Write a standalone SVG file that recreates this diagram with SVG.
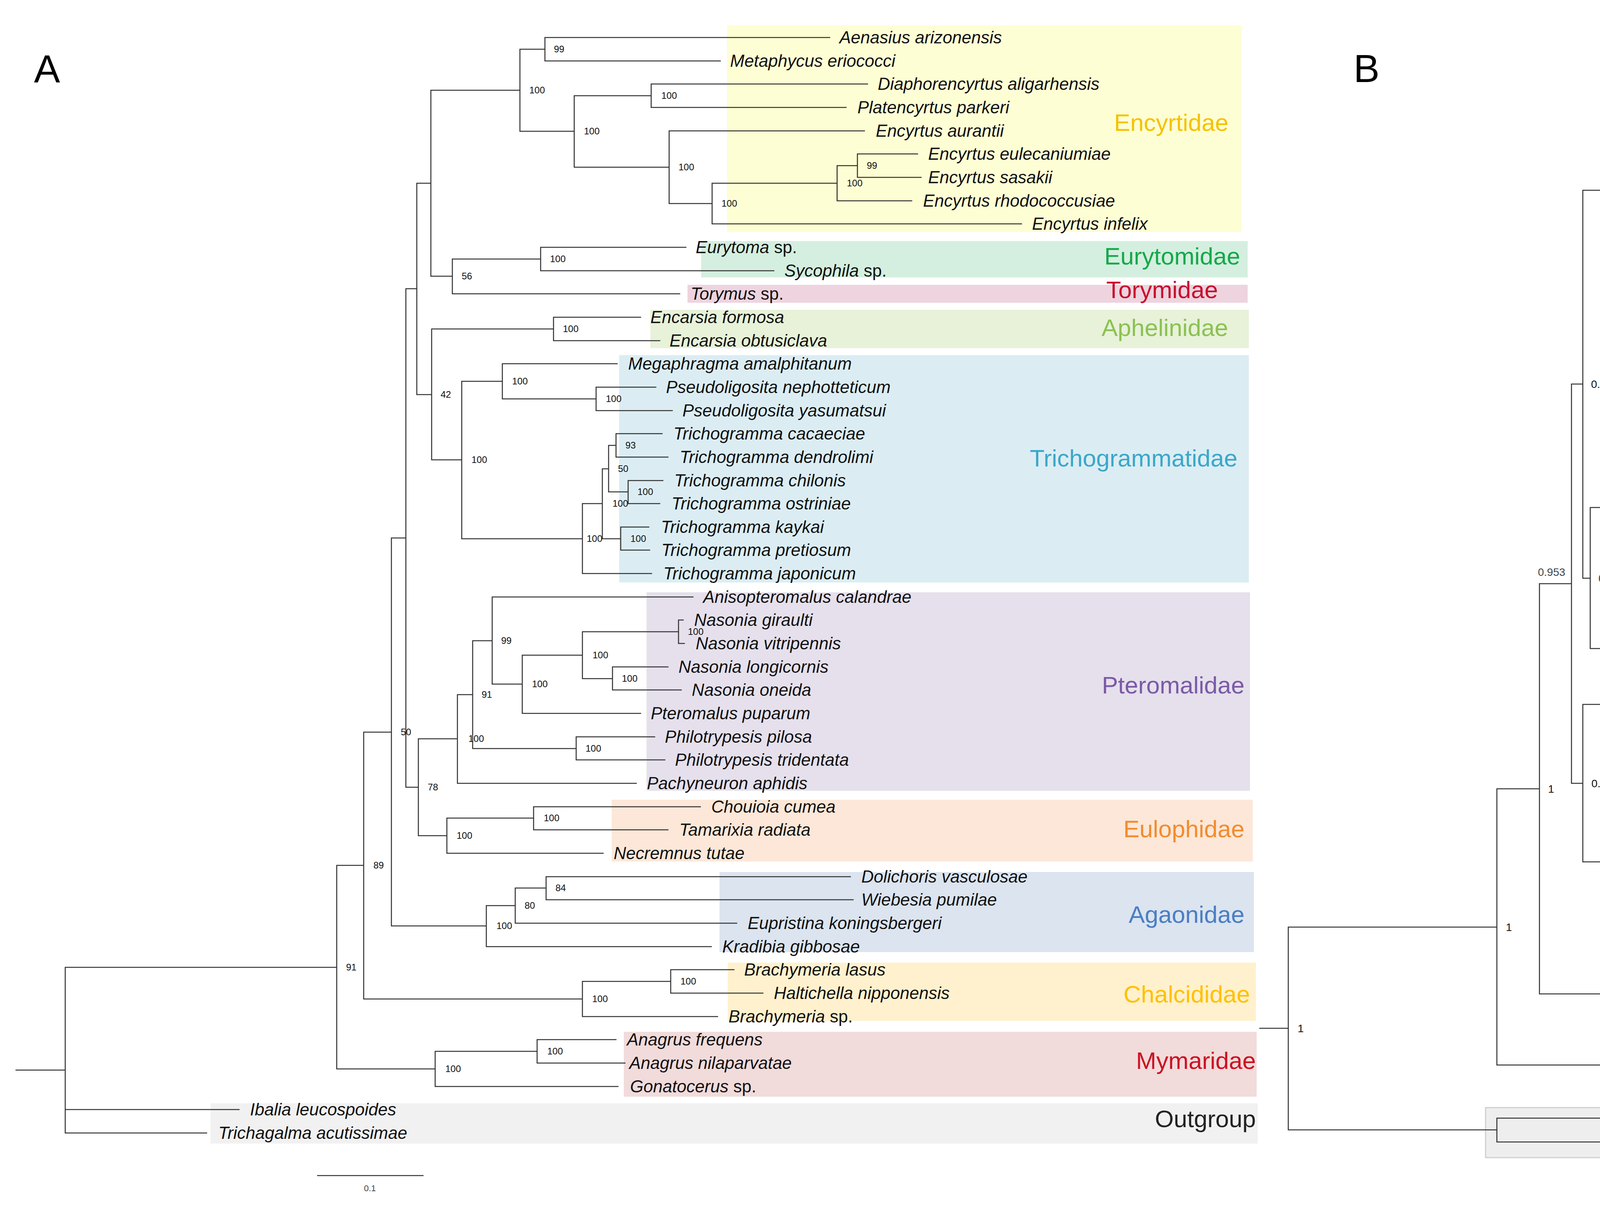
<svg xmlns="http://www.w3.org/2000/svg" width="6119" height="3092" viewBox="0 0 6119 3092">
<style>
.tree{fill:none;stroke:#333;stroke-width:2.6;stroke-linecap:square}
.t{font-family:"Liberation Sans",Arial,sans-serif;font-style:italic;fill:#111}
.ta{font-size:44px}
.tb{font-size:38px}
.n{font-style:normal}
.s{font-family:"Liberation Sans",Arial,sans-serif;fill:#111}
.sa{font-size:24px}
.sb{font-size:28px}
.lt{fill:#444}
.fam{font-family:"Liberation Sans",Arial,sans-serif;text-anchor:end}
.fa{font-size:62px}
.fb{font-size:52px}
.big{font-family:"Liberation Sans",Arial,sans-serif;font-size:100px;fill:#000}
.bar{font-family:"Liberation Sans",Arial,sans-serif;font-size:22px;fill:#444;text-anchor:middle}
</style>
<rect width="6119" height="3092" fill="#fff"/>
<!-- ================= PANEL A ================= -->
<g id="panelA">
<text class="big" x="87" y="211">A</text>
<g id="A-boxes">
<rect x="1861" y="65" width="1317" height="529" fill="#FEFED4"/>
<rect x="1795" y="617" width="1399" height="93" fill="#D4EFDF"/>
<rect x="1760" y="729" width="1434" height="46" fill="#EDD4DF"/>
<rect x="1665" y="793" width="1532" height="98" fill="#E7F2D9"/>
<rect x="1585" y="909" width="1612" height="582" fill="#DBEDF3"/>
<rect x="1655" y="1516" width="1545" height="508" fill="#E5E0EC"/>
<rect x="1566" y="2047" width="1641" height="158" fill="#FCE7D8"/>
<rect x="1842" y="2232" width="1368" height="205" fill="#DBE4EF"/>
<rect x="1863" y="2464" width="1352" height="149" fill="#FFF1CD"/>
<rect x="1597" y="2641" width="1620" height="166" fill="#F1DBDB"/>
<rect x="539" y="2824" width="2681" height="103" fill="#F1F1F1"/>
</g>
<g id="A-connectors">
<path class="tree" d="M1395,96V156M1395,96H2124M1395,156H1844
M1667,215V275M1667,215H2221M1667,275H2166
M2195,394V454M2195,394H2349M2195,454H2358
M2143,424V514M2143,424H2195M2143,514H2334
M1823,469V573M1823,469H2143M1823,573H2615
M1713,335V521M1713,335H2213M1713,521H1823
M1470,245V428M1470,245H1667M1470,428H1713
M1331,126V336M1331,126H1395M1331,336H1470
M1384,633V693M1384,633H1756M1384,693H1981
M1158,663V752M1158,663H1384M1158,752H1740
M1103,231V707M1103,231H1331M1103,707H1158
M1417,812V872M1417,812H1640M1417,872H1689
M1526,991V1051M1526,991H1679M1526,1051H1721
M1286,931V1021M1286,931H1580M1286,1021H1526
M1577,1110V1170M1577,1110H1695M1577,1170H1710
M1608,1230V1289M1608,1230H1697M1608,1289H1689
M1558,1140V1259M1558,1140H1577M1558,1259H1608
M1589,1349V1408M1589,1349H1661M1589,1408H1663
M1542,1200V1379M1542,1200H1558M1542,1379H1589
M1491,1289V1468M1491,1289H1542M1491,1468H1668
M1182,976V1379M1182,976H1286M1182,1379H1491
M1105,842V1177M1105,842H1417M1105,1177H1182
M1067,469V1010M1067,469H1103M1067,1010H1105
M1737,1587V1647M1737,1587H1749M1737,1647H1752
M1568,1707V1766M1568,1707H1710M1568,1766H1744
M1491,1617V1737M1491,1617H1737M1491,1737H1568
M1337,1677V1826M1337,1677H1491M1337,1826H1640
M1260,1528V1751M1260,1528H1774M1260,1751H1337
M1475,1886V1945M1475,1886H1676M1475,1945H1702
M1210,1640V1916M1210,1640H1260M1210,1916H1475
M1171,1778V2005M1171,1778H1210M1171,2005H1629
M1366,2065V2124M1366,2065H1793M1366,2124H1710
M1144,2094V2184M1144,2094H1366M1144,2184H1544
M1071,1891V2139M1071,1891H1171M1071,2139H1144
M1039,739V2015M1039,739H1067M1039,2015H1071
M1398,2244V2303M1398,2244H2177M1398,2303H2184
M1319,2273V2363M1319,2273H1398M1319,2363H1886
M1245,2318V2423M1245,2318H1319M1245,2423H1821
M1002,1377V2370M1002,1377H1039M1002,2370H1245
M1717,2482V2542M1717,2482H1879M1717,2542H1953
M1491,2512V2602M1491,2512H1717M1491,2602H1837
M931,1874V2557M931,1874H1002M931,2557H1491
M1375,2661V2721M1375,2661H1577M1375,2721H1600
M1114,2691V2781M1114,2691H1375M1114,2781H1582
M862,2215V2736M862,2215H931M862,2736H1114
M167,2476V2900M167,2476H862M167,2840H612M167,2900H529M41,2739H167"/>
<path class="tree" d="M813,3009H1083"/>
</g>
<g id="A-support" class="s sa">
<text x="1418" y="134">99</text>
<text x="1355" y="239">100</text>
<text x="1495" y="344">100</text>
<text x="1693" y="253">100</text>
<text x="1737" y="436">100</text>
<text x="1847" y="529">100</text>
<text x="2168" y="477">100</text>
<text x="2219" y="432">99</text>
<text x="1408" y="671">100</text>
<text x="1182" y="715">56</text>
<text x="1441" y="850">100</text>
<text x="1128" y="1018">42</text>
<text x="1207" y="1185">100</text>
<text x="1311" y="984">100</text>
<text x="1551" y="1029">100</text>
<text x="1502" y="1387">100</text>
<text x="1568" y="1297">100</text>
<text x="1582" y="1208">50</text>
<text x="1601" y="1148">93</text>
<text x="1632" y="1267">100</text>
<text x="1614" y="1387">100</text>
<text x="1283" y="1648">99</text>
<text x="1362" y="1759">100</text>
<text x="1517" y="1685">100</text>
<text x="1761" y="1625">100</text>
<text x="1592" y="1745">100</text>
<text x="1233" y="1786">91</text>
<text x="1199" y="1899">100</text>
<text x="1499" y="1924">100</text>
<text x="1095" y="2023">78</text>
<text x="1026" y="1882">50</text>
<text x="1169" y="2147">100</text>
<text x="1392" y="2102">100</text>
<text x="956" y="2223">89</text>
<text x="886" y="2484">91</text>
<text x="1271" y="2378">100</text>
<text x="1343" y="2326">80</text>
<text x="1422" y="2281">84</text>
<text x="1516" y="2565">100</text>
<text x="1742" y="2520">100</text>
<text x="1140" y="2744">100</text>
<text x="1401" y="2699">100</text>
</g>
<text class="bar" x="947" y="3049">0.1</text>
<g id="A-Encyrtidae">
<text class="t ta" x="2149" y="111">Aenasius arizonensis</text>
<text class="t ta" x="1869" y="171">Metaphycus eriococci</text>
<text class="t ta" x="2247" y="230">Diaphorencyrtus aligarhensis</text>
<text class="t ta" x="2195" y="290">Platencyrtus parkeri</text>
<text class="t ta" x="2242" y="350">Encyrtus aurantii</text>
<text class="t ta" x="2376" y="409">Encyrtus eulecaniumiae</text>
<text class="t ta" x="2376" y="469">Encyrtus sasakii</text>
<text class="t ta" x="2363" y="529">Encyrtus rhodococcusiae</text>
<text class="t ta" x="2642" y="588">Encyrtus infelix</text>
<text class="fam fa" x="3145" y="335" fill="#F5C200">Encyrtidae</text>
</g>
<g id="A-Eurytomidae">
<text class="t ta" x="1781" y="648">Eurytoma <tspan class="n">sp.</tspan></text>
<text class="t ta" x="2008" y="708">Sycophila <tspan class="n">sp.</tspan></text>
<text class="fam fa" x="3175" y="677" fill="#16A84A">Eurytomidae</text>
</g>
<g id="A-Torymidae">
<text class="t ta" x="1768" y="767">Torymus <tspan class="n">sp.</tspan></text>
<text class="fam fa" x="3118" y="763" fill="#C8102E">Torymidae</text>
</g>
<g id="A-Aphelinidae">
<text class="t ta" x="1665" y="827">Encarsia formosa</text>
<text class="t ta" x="1714" y="887">Encarsia obtusiclava</text>
<text class="fam fa" x="3144" y="860" fill="#8CC152">Aphelinidae</text>
</g>
<g id="A-Trichogrammatidae">
<text class="t ta" x="1608" y="946">Megaphragma amalphitanum</text>
<text class="t ta" x="1705" y="1006">Pseudoligosita nephotteticum</text>
<text class="t ta" x="1747" y="1066">Pseudoligosita yasumatsui</text>
<text class="t ta" x="1724" y="1125">Trichogramma cacaeciae</text>
<text class="t ta" x="1740" y="1185">Trichogramma dendrolimi</text>
<text class="t ta" x="1726" y="1245">Trichogramma chilonis</text>
<text class="t ta" x="1719" y="1304">Trichogramma ostriniae</text>
<text class="t ta" x="1692" y="1364">Trichogramma kaykai</text>
<text class="t ta" x="1693" y="1423">Trichogramma pretiosum</text>
<text class="t ta" x="1698" y="1483">Trichogramma japonicum</text>
<text class="fam fa" x="3168" y="1194" fill="#3BA7C9">Trichogrammatidae</text>
</g>
<g id="A-Pteromalidae">
<text class="t ta" x="1800" y="1543">Anisopteromalus calandrae</text>
<text class="t ta" x="1777" y="1602">Nasonia giraulti</text>
<text class="t ta" x="1781" y="1662">Nasonia vitripennis</text>
<text class="t ta" x="1737" y="1722">Nasonia longicornis</text>
<text class="t ta" x="1771" y="1781">Nasonia oneida</text>
<text class="t ta" x="1666" y="1841">Pteromalus puparum</text>
<text class="t ta" x="1702" y="1901">Philotrypesis pilosa</text>
<text class="t ta" x="1728" y="1960">Philotrypesis tridentata</text>
<text class="t ta" x="1656" y="2020">Pachyneuron aphidis</text>
<text class="fam fa" x="3186" y="1775" fill="#7B5AA6">Pteromalidae</text>
</g>
<g id="A-Eulophidae">
<text class="t ta" x="1821" y="2080">Chouioia cumea</text>
<text class="t ta" x="1739" y="2139">Tamarixia radiata</text>
<text class="t ta" x="1571" y="2199">Necremnus tutae</text>
<text class="fam fa" x="3186" y="2143" fill="#F28C2E">Eulophidae</text>
</g>
<g id="A-Agaonidae">
<text class="t ta" x="2205" y="2259">Dolichoris vasculosae</text>
<text class="t ta" x="2205" y="2318">Wiebesia pumilae</text>
<text class="t ta" x="1914" y="2378">Eupristina koningsbergeri</text>
<text class="t ta" x="1849" y="2438">Kradibia gibbosae</text>
<text class="fam fa" x="3186" y="2362" fill="#4A7EC4">Agaonidae</text>
</g>
<g id="A-Chalcididae">
<text class="t ta" x="1905" y="2497">Brachymeria lasus</text>
<text class="t ta" x="1981" y="2557">Haltichella nipponensis</text>
<text class="t ta" x="1865" y="2617">Brachymeria <tspan class="n">sp.</tspan></text>
<text class="fam fa" x="3200" y="2566" fill="#FFC000">Chalcididae</text>
</g>
<g id="A-Mymaridae">
<text class="t ta" x="1605" y="2676">Anagrus frequens</text>
<text class="t ta" x="1611" y="2736">Anagrus nilaparvatae</text>
<text class="t ta" x="1613" y="2796">Gonatocerus <tspan class="n">sp.</tspan></text>
<text class="fam fa" x="3215" y="2736" fill="#CC1122">Mymaridae</text>
</g>
<g id="A-Outgroup">
<text class="t ta" x="640" y="2855">Ibalia leucospoides</text>
<text class="t ta" x="559" y="2915">Trichagalma acutissimae</text>
<text class="fam fa" x="3215" y="2885" fill="#222">Outgroup</text>
</g>
</g>
<!-- ================= PANEL B ================= -->
<g id="panelB">
<text class="big" x="3465" y="210">B</text>
<g id="B-boxes">
<rect x="4897" y="47" width="1187" height="544" fill="#FEFEDC" stroke="#F3F3E8" stroke-width="3"/>
<rect x="4837" y="593" width="1247" height="115" fill="#DDF2E6" stroke="#EEF6F0" stroke-width="3"/>
<rect x="4787" y="716" width="1297" height="67" fill="#EFDFE8" stroke="#F5ECF0" stroke-width="3"/>
<rect x="4772" y="788" width="1312" height="524" fill="#EDEAF2" stroke="#F4F2F6" stroke-width="3"/>
<rect x="4675" y="1324" width="1411" height="174" fill="#FDEFE5" stroke="#F8F0EA" stroke-width="3"/>
<rect x="5121" y="1505" width="963" height="242" fill="#DEEAF4" stroke="#EDF2F6" stroke-width="3"/>
<rect x="4706" y="1750" width="1375" height="106" fill="#EEF6E4" stroke="#E2EAD8" stroke-width="3"/>
<rect x="4618" y="1863" width="1456" height="597" fill="#E4F2F7" stroke="#EEF4F6" stroke-width="3"/>
<rect x="5215" y="2458" width="862" height="184" fill="#FEF5E0" stroke="#E6D6A8" stroke-width="3"/>
<rect x="4807" y="2663" width="1274" height="160" fill="#FDDEDE" stroke="#F4E6E6" stroke-width="3"/>
<rect x="3803" y="2835" width="2280" height="128" fill="#EEEEEE" stroke="#CFCFCF" stroke-width="3"/>
</g>
<g id="B-connectors">
<path class="tree" d="M4444,79V140M4444,79H4923M4444,140H5117
M5224,321V382M5224,321H5324M5224,382H5329
M5180,261V351M5180,261H5302M5180,351H5224
M4896,200V306M4896,200H5555M4896,306H5180
M4798,253V442M4798,253H4896M4798,442H5333
M4783,503V563M4783,503H5319M4783,563H5259
M4530,348V533M4530,348H4798M4530,533H4783
M4374,109V440M4374,109H4444M4374,440H4530
M4415,624V684M4415,624H4981M4415,684H4826
M4159,654V745M4159,654H4415M4159,745H4796
M4099,275V699M4099,275H4374M4099,699H4159
M4870,866V926M4870,866H4877M4870,926H4877
M4731,987V1047M4731,987H4863M4731,1047H4881
M4642,896V1017M4642,896H4870M4642,1017H4731
M4463,956V1108M4463,956H4642M4463,1108H4791
M4350,805V1032M4350,805H4872M4350,1032H4463
M4634,1168V1229M4634,1168H4850M4634,1229H4870
M4288,918V1198M4288,918H4350M4288,1198H4634
M4239,1058V1289M4239,1058H4288M4239,1289H4772
M4490,1350V1410M4490,1350H4977M4490,1410H4905
M4197,1380V1471M4197,1380H4490M4197,1471H4647
M4106,1174V1425M4106,1174H4239M4106,1425H4197
M4661,1531V1592M4661,1531H5641M4661,1592H5527
M4532,1561V1652M4532,1561H4661M4532,1652H5150
M4436,1607V1713M4436,1607H4532M4436,1713H5178
M4071,1299V1660M4071,1299H4106M4071,1660H4436
M4052,487V1480M4052,487H4099M4052,1480H4071
M4457,1773V1834M4457,1773H4704M4457,1834H4733
M4685,2015V2076M4685,2015H4758M4685,2076H4758
M4682,2136V2197M4682,2136H4758M4682,2197H4763
M4628,2045V2166M4628,2045H4685M4628,2166H4682
M4611,1955V2106M4611,1955H4730M4611,2106H4628
M4598,2030V2257M4598,2030H4611M4598,2257H4692
M4531,1894V2144M4531,1894H4692M4531,2144H4598
M4608,2318V2378M4608,2318H4804M4608,2378H4783
M4290,2348V2439M4290,2348H4608M4290,2439H4608
M4144,2019V2393M4144,2019H4531M4144,2393H4290
M4052,1803V2206M4052,1803H4457M4052,2206H4144
M4023,983V2005M4023,983H4052M4023,2005H4052
M5118,2560V2620M5118,2560H5338M5118,2620H5287
M4815,2499V2590M4815,2499H5204M4815,2590H5118
M3941,1494V2544M3941,1494H4023M3941,2544H4815
M4553,2741V2802M4553,2741H4794M4553,2802H4781
M4200,2681V2771M4200,2681H4857M4200,2771H4553
M3832,2019V2726M3832,2019H3941M3832,2726H4200
M3832,2862V2923M3832,2862H4245M3832,2923H4362
M3298,2373V2892M3298,2373H3832M3298,2892H3832M3225,2632H3298"/>
<path class="tree" d="M4390,3013H4730"/>
</g>
<g id="B-support" class="s sb">
<text x="4465" y="119">0.7044</text>
<text x="4395" y="285">0.7462</text>
<text x="4551" y="450">0.6539</text>
<text x="4916" y="263">0.439</text>
<text x="4818" y="357">0.4961</text>
<text x="4802" y="543">0.5052</text>
<text x="4120" y="497">0.9074</text>
<text x="4436" y="664">0.7217</text>
<text x="4180" y="709">0.8722</text>
<text x="4073" y="993">0.935</text>
<text x="4371" y="928">0.7602</text>
<text x="4484" y="1042">0.6939</text>
<text x="4663" y="966">0.5881</text>
<text x="4898" y="907">0.454</text>
<text x="4752" y="1027">0.5356</text>
<text x="4309" y="1068">0.7969</text>
<text x="4656" y="1208">0.5926</text>
<text x="4261" y="1184">0.8254</text>
<text class="lt" x="4128" y="1309">0.9041</text>
<text x="4511" y="1390">0.6779</text>
<text x="4218" y="1435">0.8504</text>
<text class="lt" x="4092" y="1490">0.9246</text>
<text class="lt" x="3937" y="1474">0.953</text>
<text x="4682" y="1571">0.5774</text>
<text x="4553" y="1617">0.6529</text>
<text x="4457" y="1670">0.7095</text>
<text x="4477" y="1813">0.6973</text>
<text x="4074" y="2015">0.935</text>
<text x="3963" y="2029">1</text>
<text x="4434" y="1998">0.6534</text>
<text x="4578" y="2010">0.6058</text>
<text x="4511" y="2186">0.614</text>
<text x="4706" y="2055">0.5624</text>
<text x="4650" y="2116">0.5956</text>
<text x="4703" y="2176">0.5645</text>
<text x="4629" y="2358">0.6082</text>
<text x="4310" y="2403">0.7955</text>
<text x="4164" y="2216">0.8818</text>
<text x="4836" y="2554">0.4863</text>
<text x="3855" y="2383">1</text>
<text x="4221" y="2736">0.8484</text>
<text x="4573" y="2781">0.6405</text>
<text x="3322" y="2642">1</text>
</g>
<text class="bar" x="4561" y="3050">0.2</text>
<g id="B-Encyrtidae">
<text class="t tb" x="4929" y="92">Metaphycus eriococci</text>
<text class="t tb" x="5140" y="153">Aenasius arizonensis</text>
<text class="t tb" x="5579" y="213">Encyrtus infelix</text>
<text class="t tb" x="5324" y="274">Encyrtus rhodococcusiae</text>
<text class="t tb" x="5348" y="334">Encyrtus sasakii</text>
<text class="t tb" x="5348" y="395">Encyrtus eulecaniumiae</text>
<text class="t tb" x="5357" y="455">Encyrtus aurantii</text>
<text class="t tb" x="5357" y="516">Platencyrtus parkeri</text>
<text class="t tb" x="5283" y="576">Diaphorencyrtus aligarhensis</text>
<text class="fam fb" x="6031" y="335" fill="#F5C200">Encyrtidae</text>
</g>
<g id="B-Eurytomidae">
<text class="t tb" x="5003" y="637">Sycophila <tspan class="n">sp.</tspan></text>
<text class="t tb" x="4849" y="697">Eurytoma <tspan class="n">sp.</tspan></text>
<text class="fam fb" x="5984" y="690" fill="#16A84A">Eurytomidae</text>
</g>
<g id="B-Torymidae">
<text class="t tb" x="4822" y="758">Torymus <tspan class="n">sp.</tspan></text>
<text class="fam fb" x="5942" y="751" fill="#C8102E">Torymidae</text>
</g>
<g id="B-Pteromalidae">
<text class="t tb" x="4894" y="818">Anisopteromalus calandrae</text>
<text class="t tb" x="4900" y="879">Nasonia giraulti</text>
<text class="t tb" x="4903" y="939">Nasonia vitripennis</text>
<text class="t tb" x="4903" y="1000">Nasonia longicornis</text>
<text class="t tb" x="4907" y="1060">Nasonia oneida</text>
<text class="t tb" x="4815" y="1121">Pteromalus puparum</text>
<text class="t tb" x="4874" y="1181">Philotrypesis pilosa</text>
<text class="t tb" x="4892" y="1242">Philotrypesis tridentata</text>
<text class="t tb" x="4795" y="1302">Pachyneuron aphidis</text>
<text class="fam fb" x="6035" y="1130" fill="#7B5AA6">Pteromalidae</text>
</g>
<g id="B-Eulophidae">
<text class="t tb" x="5001" y="1363">Chouioia cumea</text>
<text class="t tb" x="4931" y="1423">Tamarixia radiata</text>
<text class="t tb" x="4671" y="1484">Necremnus tutae</text>
<text class="fam fb" x="6045" y="1436" fill="#F28C2E">Eulophidae</text>
</g>
<g id="B-Agaonidae">
<text class="t tb" x="5662" y="1544">Dolichoris vasculosae</text>
<text class="t tb" x="5551" y="1605">Wiebesia pumilae</text>
<text class="t tb" x="5173" y="1665">Eupristina koningsbergeri</text>
<text class="t tb" x="5200" y="1726">Kradibia gibbosae</text>
<text class="fam fb" x="6048" y="1703" fill="#4A7EC4">Agaonidae</text>
</g>
<g id="B-Aphelinidae">
<text class="t tb" x="4712" y="1786">Encarsia formosa</text>
<text class="t tb" x="4759" y="1847">Encarsia obtusiclava</text>
<text class="fam fb" x="6031" y="1837" fill="#8CC152">Aphelinidae</text>
</g>
<g id="B-Trichogrammatidae">
<text class="t tb" x="4718" y="1907">Trichogramma japonicum</text>
<text class="t tb" x="4759" y="1968">Trichogramma dendrolimi</text>
<text class="t tb" x="4774" y="2028">Trichogramma pretiosum</text>
<text class="t tb" x="4772" y="2089">Trichogramma kaykai</text>
<text class="t tb" x="4776" y="2149">Trichogramma ostriniae</text>
<text class="t tb" x="4789" y="2210">Trichogramma chilonis</text>
<text class="t tb" x="4728" y="2270">Trichogramma cacaeciae</text>
<text class="t tb" x="4827" y="2331">Pseudoligosita yasumatsui</text>
<text class="t tb" x="4807" y="2391">Pseudoligosita nephotteticum</text>
<text class="t tb" x="4630" y="2452">Megaphragma amalphitanum</text>
<text class="fam fb" x="6048" y="2108" fill="#3BA7C9">Trichogrammatidae</text>
</g>
<g id="B-Chalcididae">
<text class="t tb" x="5228" y="2512">Brachymeria <tspan class="n">sp.</tspan></text>
<text class="t tb" x="5361" y="2573">Haltichella nipponensis</text>
<text class="t tb" x="5311" y="2633">Brachymeria lasus</text>
<text class="fam fb" x="6026" y="2548" fill="#FFC000">Chalcididae</text>
</g>
<g id="B-Mymaridae">
<text class="t tb" x="4881" y="2694">Gonatocerus <tspan class="n">sp.</tspan></text>
<text class="t tb" x="4815" y="2754">Anagrus nilaparvatae</text>
<text class="t tb" x="4802" y="2815">Anagrus frequens</text>
<text class="fam fb" x="6035" y="2755" fill="#CC1122">Mymaridae</text>
</g>
<g id="B-Outgroup">
<text class="t tb" x="4272" y="2875">Trichagalma acutissimae</text>
<text class="t tb" x="4385" y="2936">Ibalia leucospoides</text>
<text class="fam fb" x="6001" y="2919" fill="#222">Outgroup</text>
</g>
</g>
</svg>
